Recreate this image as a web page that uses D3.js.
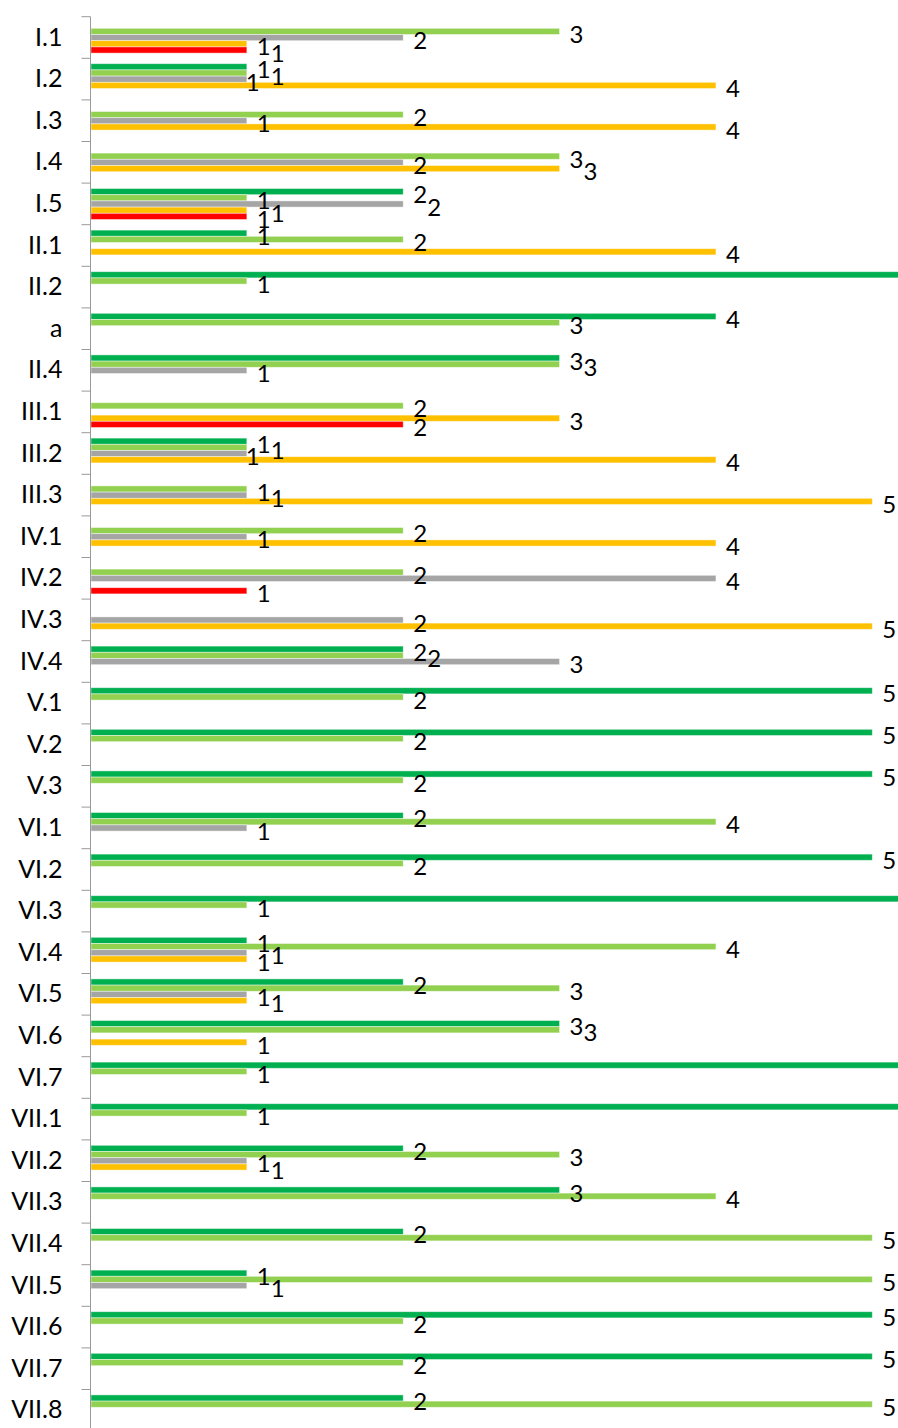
<!DOCTYPE html>
<html>
<head>
<meta charset="utf-8">
<title>Bars</title>
<script src="https://cdnjs.cloudflare.com/ajax/libs/d3/7.8.5/d3.min.js"></script>
<style>
body { margin: 0; background: #fff; }
text { font-family: Lato, "Open Sans", sans-serif; fill: #000; }
</style>
</head>
<body>
<script>

// categories, top to bottom
var categories = ["I.1","I.2","I.3","I.4","I.5","II.1","II.2","a","II.4","III.1","III.2","III.3",
  "IV.1","IV.2","IV.3","IV.4","V.1","V.2","V.3","VI.1","VI.2","VI.3","VI.4","VI.5","VI.6","VI.7",
  "VII.1","VII.2","VII.3","VII.4","VII.5","VII.6","VII.7","VII.8"];

// one value per category, 0 = no bar
var darkGreen  = [0,1,0,0,2,1,6,4,3,0,1,0,0,0,0,2,5,5,5,2,5,6,1,2,3,6,6,2,3,2,1,5,5,2];
var lightGreen = [3,1,2,3,1,2,1,3,3,2,1,1,2,2,0,2,2,2,2,4,2,1,4,3,3,1,1,3,4,5,5,2,2,5];
var grey       = [2,1,1,2,2,0,0,0,1,0,1,1,1,4,2,3,0,0,0,1,0,0,1,1,0,0,0,1,0,0,1,0,0,0];
var yellow     = [1,4,4,3,1,4,0,0,0,3,4,5,4,0,5,0,0,0,0,0,0,0,1,1,1,0,0,1,0,0,0,0,0,0];
var red        = [1,0,0,0,1,0,0,0,0,2,0,0,0,1,0,0,0,0,0,0,0,0,0,0,0,0,0,0,0,0,0,0,0,0];

var series = [
  {name: "s1", color: "#00B050", values: darkGreen},
  {name: "s2", color: "#92D050", values: lightGreen},
  {name: "s3", color: "#A5A5A5", values: grey},
  {name: "s4", color: "#FFC000", values: yellow},
  {name: "s5", color: "#FF0000", values: red}
];

var width = 898, height = 1428;
var axisX = 90.5, plotTop = 16.7, step = 41.6;

var svg = d3.select("body").append("svg")
  .attr("width", width)
  .attr("height", height);

var x = d3.scaleLinear().domain([0, 5]).range([axisX, 872.3]);

var y0 = d3.scaleBand()
  .domain(categories)
  .range([plotTop, plotTop + step * categories.length]);

var y1 = d3.scaleBand()
  .domain(series.map(function(s) { return s.name; }))
  .range([5.4, 36.4]);

// flatten into one record per bar
var bars = [];
categories.forEach(function(c, i) {
  series.forEach(function(s) {
    if (s.values[i] > 0)
      bars.push({cat: c, series: s.name, color: s.color, value: s.values[i]});
  });
});

svg.append("g")
  .selectAll("rect")
  .data(bars)
  .enter().append("rect")
  .attr("x", x(0) + 0.5)
  .attr("y", function(d) { return y0(d.cat) + y1(d.series); })
  .attr("width", function(d) { return x(d.value) - x(0) - 0.5; })
  .attr("height", y1.bandwidth())
  .attr("fill", function(d) { return d.color; })
  .attr("stroke", "rgba(255,255,255,0.55)")
  .attr("stroke-width", 0.8);

// category axis: labels centred, ticks on band edges
var axis = svg.append("g")
  .attr("transform", "translate(" + axisX + ",0)")
  .call(d3.axisLeft(y0).tickSize(0).tickPadding(28));
axis.select(".domain").remove();
axis.selectAll("text")
  .style("font-family", "Lato, 'Open Sans', sans-serif")
  .style("font-size", "25px");

svg.append("line")
  .attr("x1", axisX).attr("x2", axisX)
  .attr("y1", plotTop).attr("y2", height)
  .attr("stroke", "#9a9a9a").attr("stroke-width", 1);

svg.append("g")
  .selectAll("line")
  .data(categories)
  .enter().append("line")
  .attr("x1", axisX - 9).attr("x2", axisX)
  .attr("y1", function(c) { return y0(c); })
  .attr("y2", function(c) { return y0(c); })
  .attr("stroke", "#9a9a9a").attr("stroke-width", 1);

// value labels, nudged a little when they would sit on top of each other
var placed = [];
function clash(px, py) {
  return placed.some(function(p) {
    return Math.abs(p.x - px) < 11 && Math.abs(p.y - py) < 14;
  });
}
var tries = [[0, 0], [14, 0], [-11, 0], [0, -7], [28, 0]];
bars.forEach(function(d) {
  var bx = x(d.value) + 10;
  var by = y0(d.cat) + y1(d.series) + y1.bandwidth() / 2 + 2;
  for (var k = 0; k < tries.length; k++) {
    if (!clash(bx + tries[k][0], by + tries[k][1]) || k == tries.length - 1) {
      d.lx = bx + tries[k][0];
      d.ly = by + tries[k][1];
      break;
    }
  }
  placed.push({x: d.lx, y: d.ly});
});

// labels of the bars running past the right edge fall outside the picture
svg.append("g")
  .selectAll("text")
  .data(bars.filter(function(d) { return d.lx < width; }))
  .enter().append("text")
  .attr("x", function(d) { return d.lx; })
  .attr("y", function(d) { return d.ly; })
  .attr("dominant-baseline", "central")
  .style("font-size", "24px")
  .text(function(d) { return d.value; });

</script>
</body>
</html>
